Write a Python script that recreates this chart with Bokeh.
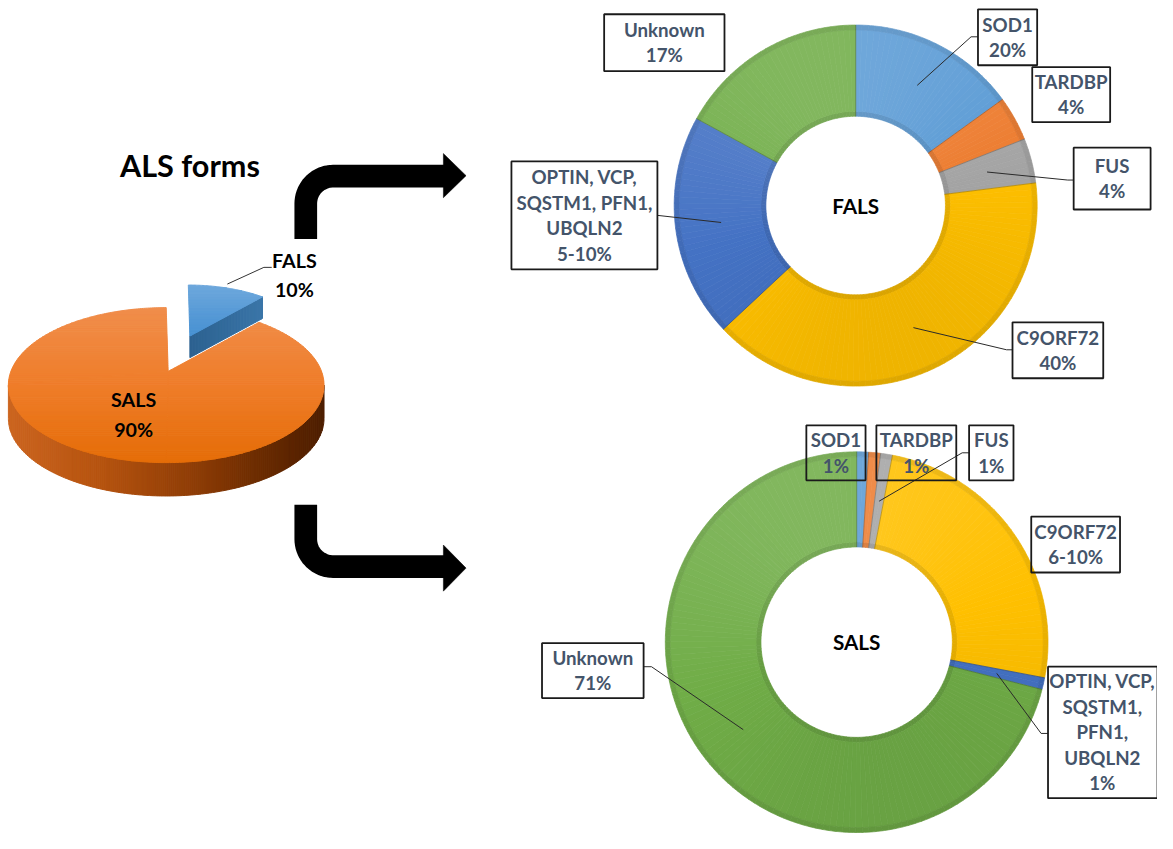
import numpy as np
from bokeh.plotting import figure
from bokeh.models import Range1d, ColumnDataSource
from bokeh.core.properties import value
from bokeh.embed import file_html
from bokeh.resources import INLINE

# ---------------- data ----------------
als_forms = ["SALS", "FALS"]
als_share = [90, 10]
als_pct_text = ["90%", "10%"]

genes = ["SOD1", "TARDBP", "FUS", "C9ORF72", "OPTIN", "Unknown"]
gene_colors = ["#5B9BD5", "#ED7D31", "#A5A5A5", "#FFC000", "#4472C4", "#70AD47"]

fals_share = [15, 4, 4, 40, 20, 17]
fals_pct_text = ["20%", "4%", "4%", "40%", "5-10%", "17%"]
fals_name_lines = [["SOD1"], ["TARDBP"], ["FUS"], ["C9ORF72"],
                   ["OPTIN, VCP,", "SQSTM1, PFN1,", "UBQLN2"], ["Unknown"]]

sals_share = [1, 1, 1, 25, 1, 71]
sals_pct_text = ["1%", "1%", "1%", "6-10%", "1%", "71%"]
sals_name_lines = [["SOD1"], ["TARDBP"], ["FUS"], ["C9ORF72"],
                   ["OPTIN, VCP,", "SQSTM1,", "PFN1,", "UBQLN2"], ["Unknown"]]

# ---------------- layout ----------------
SC = 1157 / 1173.0  # screen px per layout unit
FALS_C, FALS_R = (867, 209), (91, 184)
SALS_C, SALS_R = (868, 654), (97, 194)

fals_boxes = [(991, 9, 1051, 66), (1046, 68, 1125, 124), (1088, 150, 1166, 213),
              (1026, 328, 1118, 385), (518, 164, 666, 274), (612, 14, 734, 72)]
fals_leaders = [[(984, 37), (991, 37)], None, [(1082, 183), (1088, 183)],
                [(1020, 356), (1026, 356)], [(666, 219)], None]
sals_boxes = [(817, 433, 877, 489), (888, 433, 969, 489), (982, 433, 1027, 489),
              (1045, 526, 1135, 583), (1062, 679, 1173, 813), (549, 655, 652, 711)]
sals_leaders = [None, None, [(975, 461), (982, 461)], None,
                [(1055, 747), (1062, 747)], [(660, 679), (652, 679)]]
LINE_GAP = 26.0

p = figure(width=1157, height=833, x_range=Range1d(0, 1173), y_range=Range1d(849, 0),
           output_backend="svg", toolbar_location=None, min_border=0,
           x_axis_location=None, y_axis_location=None)
p.grid.visible = False
p.outline_line_color = None
p.background_fill_color = "white"


def hex2rgb(h):
    h = h.lstrip("#")
    return np.array([int(h[i:i + 2], 16) for i in (0, 2, 4)], dtype=float)


def rgb2hex(c):
    c = np.clip(np.round(c), 0, 255).astype(int)
    return "#%02x%02x%02x" % tuple(c)


def shade(c, t):
    c = np.asarray(c, dtype=float)
    return c + (255 - c) * t if t >= 0 else c * (1 + t)


def lerp_stops(stops, t):
    t = min(max(t, 0.0), 1.0)
    for i in range(len(stops) - 1):
        t0, c0 = stops[i]
        t1, c1 = stops[i + 1]
        if t <= t1:
            f = 0 if t1 == t0 else (t - t0) / (t1 - t0)
            return hex2rgb(c0) * (1 - f) + hex2rgb(c1) * f
    return hex2rgb(stops[-1][1])


def clip_half(pts, axis, val, keep_ge):
    out = []
    n = len(pts)
    for i in range(n):
        cur, prev = pts[i], pts[i - 1]
        cin = cur[axis] >= val if keep_ge else cur[axis] <= val
        pin = prev[axis] >= val if keep_ge else prev[axis] <= val
        if cin != pin:
            t = (val - prev[axis]) / (cur[axis] - prev[axis])
            out.append((prev[0] + t * (cur[0] - prev[0]), prev[1] + t * (cur[1] - prev[1])))
        if cin:
            out.append(cur)
    return out


def band_strips(poly, axis, lo, hi, step, stops, xs=None, ys=None, cs=None):
    xs = [] if xs is None else xs
    ys = [] if ys is None else ys
    cs = [] if cs is None else cs
    v = lo
    while v < hi:
        a, b = v, min(v + step, hi)
        q = clip_half(poly, axis, a, True)
        if q:
            q = clip_half(q, axis, b, False)
        if len(q) >= 3:
            xs.append([pt[0] for pt in q])
            ys.append([pt[1] for pt in q])
            cs.append(rgb2hex(lerp_stops(stops, ((a + b) / 2 - lo) / (hi - lo))))
        v += step
    return xs, ys, cs


def draw_strips(xs, ys, cs, lw=1.0):
    src = ColumnDataSource(dict(xs=xs, ys=ys, c=cs))
    p.patches("xs", "ys", source=src, fill_color="c", line_color="c", line_width=lw)


# ---------------- 3D overview pie ----------------
EC, ERX, ERY = (168.0, 392.0), 160.0, 79.0
APEX = np.array([170.0, 378.0])
DEPTH = 34.0
APEX_B = np.array([192.0, 342.0])
B_SCALE, B_DEPTH = 0.8, 22.0

fals_deg = als_share[1] / sum(als_share) * 360.0


def ell(t_deg):
    t = np.radians(t_deg)
    return np.array([EC[0] + ERX * np.sin(t), EC[1] - ERY * np.cos(t)])


# orange side (front half)
front = [ell(t) for t in np.linspace(90, 270, 181)]
side_poly = [tuple(pt) for pt in front] + [(pt[0], pt[1] + DEPTH) for pt in front[::-1]]
xs, ys, cs = band_strips(side_poly, 0, EC[0] - ERX, EC[0] + ERX, 2.0,
                         [(0, "#cc6520"), (0.3, "#b5530f"), (0.6, "#8d3c06"),
                          (0.85, "#632800"), (1, "#4e1e00")])
draw_strips(xs, ys, cs)

# orange top face (SALS) split into convex sectors
top_stops = [(0, "#f08e4c"), (0.5, "#ef7d2a"), (1, "#e56d08")]
xs, ys, cs = [], [], []
for t0, t1 in [(fals_deg, 180.0), (180.0, 270.0), (270.0, 360.0)]:
    piece = [tuple(APEX)] + [tuple(ell(t)) for t in np.linspace(t0, t1, 120)]
    band_strips(piece, 1, EC[1] - ERY, EC[1] + ERY, 2.0, top_stops, xs, ys, cs)
draw_strips(xs, ys, cs)


# blue exploded wedge (FALS)
def bpt(t):
    return APEX_B + B_SCALE * (ell(t) - APEX)


p36 = bpt(fals_deg)
bside = [tuple(APEX_B), tuple(p36), (p36[0], p36[1] + B_DEPTH), (APEX_B[0], APEX_B[1] + B_DEPTH)]
xs, ys, cs = band_strips(bside, 0, APEX_B[0], p36[0], 3.0, [(0, "#2c6190"), (1, "#3a75a8")])
draw_strips(xs, ys, cs)
btop = [tuple(APEX_B)] + [tuple(bpt(t)) for t in np.linspace(0, fals_deg, 60)]
ymin = min(pt[1] for pt in btop)
xs, ys, cs = band_strips(btop, 1, ymin, APEX_B[1], 3.0, [(0, "#6ea8dc"), (1, "#4690d2")])
draw_strips(xs, ys, cs)

# labels of overview pie
p.line(x=[230, 267, 275], y=[289, 272, 272], line_color="#333333", line_width=1)
ov_x = [135, 298]
ov_y = [407, 265]
for i in range(2):
    p.text(x=[ov_x[i], ov_x[i]], y=[ov_y[i], ov_y[i] + 30], text=[als_forms[i], als_pct_text[i]],
           text_font=value("Lato"), text_font_style="bold", text_font_size="%.1fpx" % (20 * SC),
           text_color="#000000", text_align="center", text_baseline="middle")

p.text(x=[192], y=[168], text=["ALS forms"], text_font=value("Lato"), text_font_style="bold",
       text_font_size="%.1fpx" % (31 * SC), text_color="#000000",
       text_align="center", text_baseline="middle")


# ---------------- arrows ----------------
def bent_arrow(xv, y0, yh, xend, down):
    R = 28.0
    pts = [(xv, y0)]
    if not down:
        acx, acy = xv + R, yh + R
        phis = np.linspace(np.pi, 1.5 * np.pi, 20)
    else:
        acx, acy = xv + R, yh - R
        phis = np.linspace(np.pi, 0.5 * np.pi, 20)
    for ph in phis:
        pts.append((acx + R * np.cos(ph), acy + R * np.sin(ph)))
    pts.append((xend, yh))
    p.line(x=[q[0] for q in pts], y=[q[1] for q in pts], line_color="black",
           line_width=23 * SC, line_join="round", line_cap="butt")


bent_arrow(309.5, 243, 179, 451, False)
bent_arrow(309.5, 514, 577, 451, True)
p.patches(xs=[[449, 472, 449], [449, 472, 449]], ys=[[156, 178.5, 201], [555, 578.5, 602]],
          fill_color="black", line_color="black", line_width=0.5)


# ---------------- donuts ----------------
def donut(center, radii, shares, colors):
    cx, cy = center
    ri, ro = radii
    edges = np.concatenate([[0], np.cumsum(shares)]) / float(sum(shares)) * 360.0
    xs, ys, cs = [], [], []
    layers = [(ri, ri + 5, -0.09), (ri + 5, ro - 5, 0.0), (ro - 5, ro, -0.07)]
    for k in range(len(shares)):
        a0, a1 = edges[k], edges[k + 1]
        n = max(1, int(np.ceil((a1 - a0) / 2.0)))
        sub = np.linspace(a0, a1, n + 1)
        base = hex2rgb(colors[k])
        for j in range(n):
            s0, s1 = sub[j], sub[j + 1]
            am = np.radians((s0 + s1) / 2)
            light = np.cos(am) - 0.3 * np.sin(am)
            light = 0.12 * light if light > 0 else 0.06 * light
            arc = np.radians(np.linspace(s0, s1, 4))
            for r0, r1, extra in layers:
                c = shade(shade(base, light), extra)
                px = list(cx + r1 * np.sin(arc)) + list(cx + r0 * np.sin(arc[::-1]))
                py = list(cy - r1 * np.cos(arc)) + list(cy - r0 * np.cos(arc[::-1]))
                xs.append(px)
                ys.append(py)
                cs.append(rgb2hex(c))
    draw_strips(xs, ys, cs, 0.7)
    # segment borders
    bx, by = [], []
    for e in edges[:-1]:
        a = np.radians(e)
        bx.append([cx + ri * np.sin(a), cx + ro * np.sin(a)])
        by.append([cy - ri * np.cos(a), cy - ro * np.cos(a)])
    p.multi_line(xs=bx, ys=by, line_color="black", line_alpha=0.22, line_width=1)
    return edges


def labels(center, radii, edges, name_lines, pct_text, boxes, leaders):
    cx, cy = center
    rm = (radii[0] + radii[1]) / 2.0
    for k in range(len(name_lines)):
        if leaders[k] is not None:
            am = np.radians((edges[k] + edges[k + 1]) / 2)
            pts = [(cx + rm * np.sin(am), cy - rm * np.cos(am))] + leaders[k]
            p.line(x=[q[0] for q in pts], y=[q[1] for q in pts], line_color="#2a2a2a", line_width=1)
    for k in range(len(name_lines)):
        l, t, r, b = boxes[k]
        p.quad(left=[l], right=[r], top=[t], bottom=[b], fill_alpha=0,
               line_color="#1a1a1a", line_width=1.8)
        lines = name_lines[k] + [pct_text[k]]
        n = len(lines)
        ymid = (t + b) / 2.0
        ys_ = [ymid + (i - (n - 1) / 2.0) * LINE_GAP for i in range(n)]
        xc = (l + r) / 2.0
        if r >= 1173:
            xc = 1117
        p.text(x=[xc] * n, y=ys_, text=lines, text_font=value("Lato"), text_font_style="bold",
               text_font_size="%.1fpx" % (19 * SC), text_color="#44546A",
               text_align="center", text_baseline="middle")


fe = donut(FALS_C, FALS_R, fals_share, gene_colors)
se = donut(SALS_C, SALS_R, sals_share, gene_colors)
labels(FALS_C, FALS_R, fe, fals_name_lines, fals_pct_text, fals_boxes, fals_leaders)
labels(SALS_C, SALS_R, se, sals_name_lines, sals_pct_text, sals_boxes, sals_leaders)

p.text(x=[FALS_C[0], SALS_C[0]], y=[FALS_C[1], SALS_C[1]], text=["FALS", "SALS"],
       text_font=value("Lato"), text_font_style="bold", text_font_size="%.1fpx" % (21 * SC),
       text_color="#000000", text_align="center", text_baseline="middle")

open("out.html", "w").write(file_html(p, INLINE))
